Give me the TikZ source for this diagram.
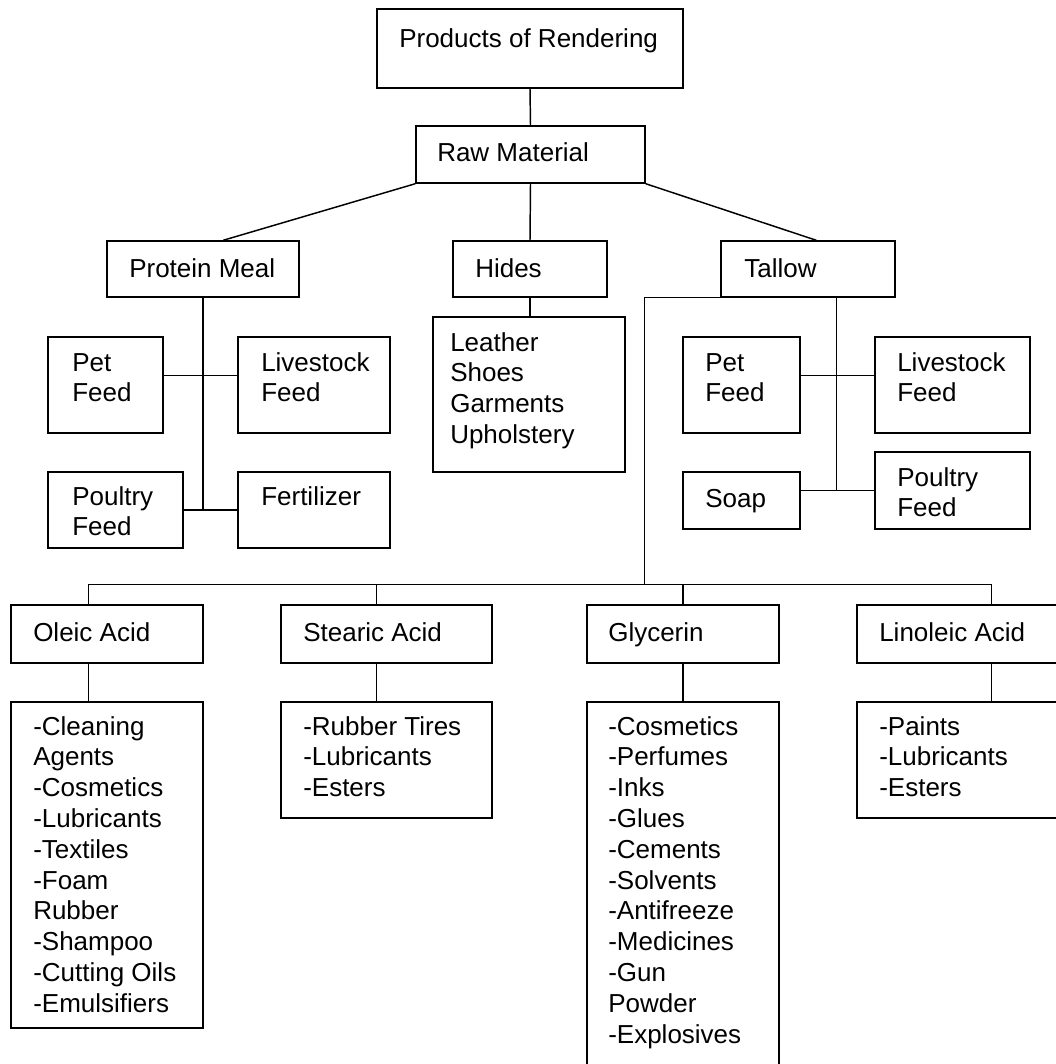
\documentclass[tikz,border=0pt]{standalone}
\usepackage{fontspec}
\setmainfont{Liberation Sans}
\usetikzlibrary{fit,calc}
\tikzset{
  box/.style={draw, line width=1.1pt, inner sep=0pt},
  txt/.style={anchor=base west, inner sep=0pt, font=\fontsize{19.5pt}{23.1pt}\selectfont},
  conn/.style={line width=1.1pt}
}
\newcommand{\lns}[1]{\begin{tabular}[t]{@{}l@{}}#1\end{tabular}}
\begin{document}
\begin{tikzpicture}[x=0.75pt,y=-0.75pt]
\useasboundingbox (0,0) rectangle (1056,1064);
\clip (0,0) rectangle (1056,1064);
% boxes
\node[box, fit={(377,9) (683,88)}] (prod) {};
\node[box, fit={(416,126) (645,183)}] (raw) {};
\node[box, fit={(107,241) (299,297)}] (pm) {};
\node[box, fit={(453,241) (607,297)}] (hid) {};
\node[box, fit={(721,241) (895,297)}] (tal) {};
\node[box, fit={(48,337) (163,433)}] (petL) {};
\node[box, fit={(238,337) (390,433)}] (livL) {};
\node[box, fit={(48,472) (183,548)}] (poulL) {};
\node[box, fit={(238,472) (390,548)}] (fert) {};
\node[box, fit={(433,317) (625,472)}] (lea) {};
\node[box, fit={(683,337) (800,433)}] (petR) {};
\node[box, fit={(875,337) (1030,433)}] (livR) {};
\node[box, fit={(683,472) (800,529)}] (soap) {};
\node[box, fit={(875,452) (1030,529)}] (poulR) {};
\node[box, fit={(11,605) (203,663)}] (ole) {};
\node[box, fit={(281,605) (492,663)}] (ste) {};
\node[box, fit={(587,605) (779,663)}] (gly) {};
\node[box, fit={(857,605) (1062,663)}] (lin) {};
\node[box, fit={(11,702) (203,1028)}] (oleL) {};
\node[box, fit={(281,702) (492,818)}] (steL) {};
\node[box, fit={(587,702) (779,1080)}] (glyL) {};
\node[box, fit={(857,702) (1062,818)}] (linL) {};
% texts
\node[txt] (prodT) at (399,47) {Products of Rendering};
\node[txt] (rawT) at (437,161) {Raw Material};
\node[txt] (pmT) at (129,277) {Protein Meal};
\node[txt] (hidT) at (475,277) {Hides};
\node[txt] (talT) at (744,277) {Tallow};
\node[txt] (petLT) at (72,371) {\lns{Pet\\Feed}};
\node[txt] (livLT) at (261,371) {\lns{Livestock\\Feed}};
\node[txt] (poulLT) at (72,505) {\lns{Poultry\\Feed}};
\node[txt] (fertT) at (261,505) {Fertilizer};
\node[txt] (leaT) at (450,351) {\lns{Leather\\Shoes\\Garments\\Upholstery}};
\node[txt] (petRT) at (705,371) {\lns{Pet\\Feed}};
\node[txt] (livRT) at (897,371) {\lns{Livestock\\Feed}};
\node[txt] (soapT) at (705,507) {Soap};
\node[txt] (poulRT) at (897,486) {\lns{Poultry\\Feed}};
\node[txt] (oleT) at (33,641) {Oleic Acid};
\node[txt] (steT) at (303,641) {Stearic Acid};
\node[txt] (glyT) at (608,641) {Glycerin};
\node[txt] (linT) at (879,641) {Linoleic Acid};
\node[txt] (oleLT) at (33,735) {\lns{-Cleaning\\Agents\\-Cosmetics\\-Lubricants\\-Textiles\\-Foam\\Rubber\\-Shampoo\\-Cutting Oils\\-Emulsifiers}};
\node[txt] (steLT) at (303,735) {\lns{-Rubber Tires\\-Lubricants\\-Esters}};
\node[txt] (glyLT) at (608,735) {\lns{-Cosmetics\\-Perfumes\\-Inks\\-Glues\\-Cements\\-Solvents\\-Antifreeze\\-Medicines\\-Gun\\Powder\\-Explosives}};
\node[txt] (linLT) at (879,735) {\lns{-Paints\\-Lubricants\\-Esters}};
% connectors
\draw[conn] (prod.south) -- (raw.north);
\draw[conn] (raw.south west) -- ($(pm.north west)+(117,0)$);
\draw[conn] (raw.south) -- (hid.north);
\draw[conn] (raw.south east) -- ($(tal.north west)+(96,0)$);
\draw[conn] (hid.south) -- (hid.south |- lea.north);
% protein meal group
\draw[conn] (pm.south) -- (pm.south |- fert.west);
\draw[conn] ($(petL.north east)+(0,39)$) -- ($(livL.north west)+(0,39)$);
\draw[conn] (poulL.east) -- (fert.west);
% tallow group
\coordinate (tv) at ($(tal.south west)+(116,0)$);
\draw[conn] (tv) -- (tv |- poulR.west);
\draw[conn] ($(petR.north east)+(0,39)$) -- ($(livR.north west)+(0,39)$);
\draw[conn] (soap.east |- poulR.west) -- (poulR.west);
% acids bus
\coordinate (dO) at ($(ole.north west)+(78,0)$);
\coordinate (dS) at ($(ste.north west)+(96,0)$);
\coordinate (dG) at (gly.north);
\coordinate (dL) at ($(lin.north west)+(135,0)$);
\coordinate (tj) at ($(dO)+(556,-20)$);
\draw[conn] (tal.south west) -| (tj);
\draw[conn] (dO) -- ++(0,-20) -| (dL);
\draw[conn] (dS) -- ++(0,-20);
\draw[conn] (dG) -- ++(0,-20);
% acids to lists
\draw[conn] (dO |- ole.south) -- (dO |- oleL.north);
\draw[conn] (dS |- ste.south) -- (dS |- steL.north);
\draw[conn] (gly.south) -- (glyL.north);
\draw[conn] (dL |- lin.south) -- (dL |- linL.north);
\end{tikzpicture}
\end{document}
